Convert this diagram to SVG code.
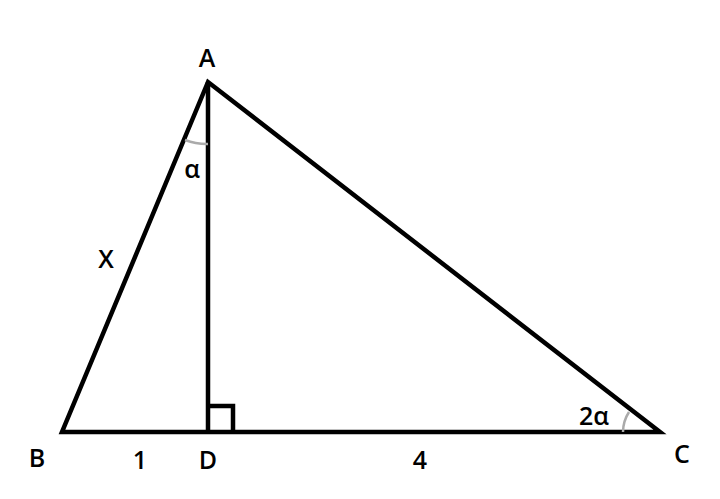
<svg xmlns="http://www.w3.org/2000/svg" width="720" height="499" viewBox="0 0 720 499">
<style>
.l{stroke:#000;stroke-width:4.5;fill:none;stroke-linejoin:miter}
.a{stroke:#aaa;stroke-width:2.5;fill:none}
.t{font-family:"Open Sans","Liberation Sans",sans-serif;font-size:25px;font-weight:600;fill:#000;text-anchor:middle}
</style>
<rect width="720" height="499" fill="#fff"/>
<g id="connectors">
<path class="l" d="M208,82 L62,432 L660,432 Z"/>
<path class="l" d="M208,82 L208,432"/>
<path class="l" d="M208,406 L233,406 L233,432"/>
<path class="a" d="M185,140 A62,62 0 0 0 208,144"/>
<path class="a" d="M629,412 A37,37 0 0 0 623,432"/>
</g>
<g id="A"><text class="t" x="207" y="67">A</text></g>
<g id="B"><text class="t" x="37" y="467">B</text></g>
<g id="C"><text class="t" x="682" y="463">C</text></g>
<g id="D"><text class="t" x="208" y="469">D</text></g>
<g id="labels">
<text class="t" x="192" y="178">α</text>
<text class="t" x="106" y="268">X</text>
<text class="t" x="140" y="469">1</text>
<text class="t" x="420" y="469">4</text>
<text class="t" x="594" y="425">2α</text>
</g>
</svg>
